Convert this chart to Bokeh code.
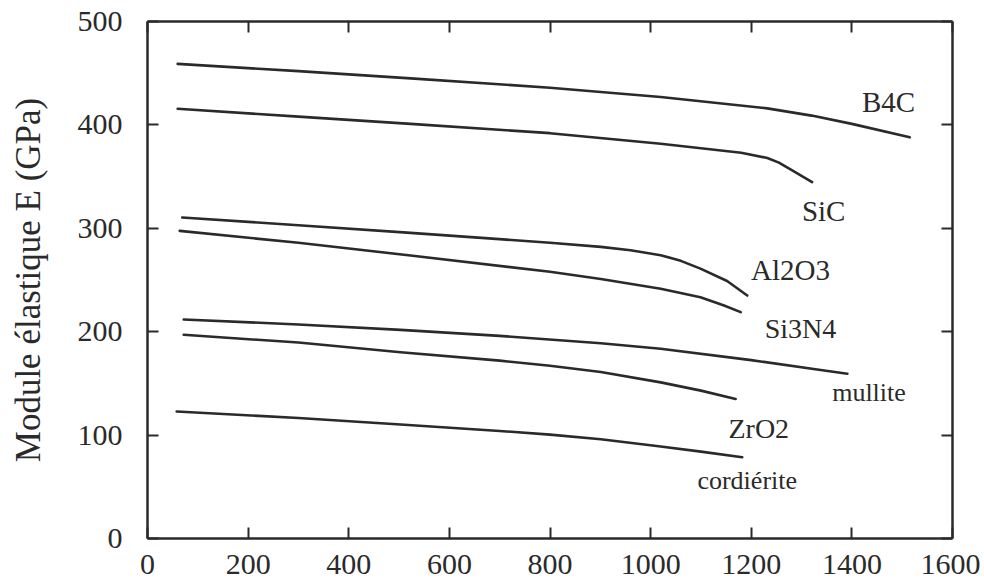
from bokeh.plotting import figure
from bokeh.models import Range1d, LinearAxis, FixedTicker, CustomJSTickFormatter, ColumnDataSource
from bokeh.core.properties import value
from bokeh.embed import file_html
from bokeh.resources import INLINE

# ---- data (temperature in °C, modulus in GPa) ----
b4c_t = [60, 300, 523, 800, 1020, 1232, 1320, 1400, 1515]
b4c_e = [459, 452, 445, 436, 427, 416, 409, 401, 388]

sic_t = [60, 300, 523, 800, 1020, 1180, 1232, 1255, 1278, 1321]
sic_e = [415.6, 408, 401, 392, 381.7, 373, 368, 363.5, 357, 344.6]

al2o3_t = [69, 300, 523, 800, 901, 960, 1020, 1060, 1099, 1152, 1192]
al2o3_e = [310.5, 303, 295.6, 286, 282, 278.8, 274, 268.5, 261, 249, 235]

si3n4_t = [64, 300, 523, 800, 901, 1020, 1099, 1146, 1179]
si3n4_e = [297.5, 286, 273.7, 258, 251, 241.5, 233.4, 225.3, 218.9]

mullite_t = [72, 300, 503, 700, 901, 1020, 1200, 1338, 1391]
mullite_e = [211.8, 207, 201.8, 196, 188.8, 183.5, 172.5, 163, 159.3]

zro2_t = [72, 300, 503, 700, 800, 901, 1020, 1100, 1169]
zro2_e = [197, 189.5, 180.2, 172, 167, 161, 151, 143, 135]

cord_t = [58, 300, 503, 700, 800, 901, 1020, 1100, 1182]
cord_e = [122.8, 116.5, 110.3, 104, 100.5, 96, 89, 84, 78.6]

label_names = ["B4C", "SiC", "Al2O3", "Si3N4", "mullite", "ZrO2", "cordiérite"]
label_t = [1473, 1344, 1278, 1298, 1434, 1215, 1192]
label_e = [422, 317, 260, 203, 141.5, 106, 56]
label_sizes = ["29px", "29px", "29px", "28px", "26px", "28px", "26px"]

x_ticks = [0, 200, 400, 600, 800, 1000, 1200, 1400, 1600]
y_ticks = [0, 100, 200, 300, 400, 500]

FONT = "Liberation Serif"
INK = "#2a2a2a"

p = figure(frame_width=805, frame_height=517, output_backend="svg", toolbar_location=None,
           x_range=Range1d(0, 1600), y_range=Range1d(0, 500),
           min_border_left=147, min_border_top=21, min_border_right=28, min_border_bottom=48)
p.xgrid.visible = False
p.ygrid.visible = False
p.outline_line_color = None
p.background_fill_color = "white"
p.border_fill_color = "white"

series = [(b4c_t, b4c_e), (sic_t, sic_e), (al2o3_t, al2o3_e), (si3n4_t, si3n4_e),
          (mullite_t, mullite_e), (zro2_t, zro2_e), (cord_t, cord_e)]
for t, e in series:
    p.line(t, e, line_color=INK, line_width=2.6, line_join="round", line_cap="round")

src = ColumnDataSource(dict(x=label_t, y=label_e, text=label_names, size=label_sizes))
p.text(x="x", y="y", text="text", source=src, text_font=value(FONT), text_font_size="size",
       text_align="center", text_baseline="middle", text_color=INK)

def style_axis(ax, ticks):
    ax.ticker = FixedTicker(ticks=ticks)
    ax.axis_line_width = 2.5
    ax.axis_line_color = INK
    ax.major_tick_in = 11
    ax.major_tick_out = 0
    ax.major_tick_line_width = 2
    ax.major_tick_line_color = INK
    ax.minor_tick_line_color = None
    ax.major_label_text_font = FONT
    ax.major_label_text_font_size = "30px"
    ax.major_label_text_color = INK

xa = p.xaxis[0]
style_axis(xa, x_ticks)
xa.major_label_standoff = 16

ya = p.yaxis[0]
style_axis(ya, y_ticks)
ya.major_label_standoff = 25
ya.axis_label = "Module élastique E (GPa)"
ya.axis_label_text_font = FONT
ya.axis_label_text_font_size = "35px"
ya.axis_label_text_font_style = "normal"
ya.axis_label_text_color = INK
ya.axis_label_standoff = 27

top = LinearAxis(formatter=CustomJSTickFormatter(code="return ''"))
style_axis(top, x_ticks)
top.major_label_standoff = 0
p.add_layout(top, "above")
right = LinearAxis(formatter=CustomJSTickFormatter(code="return ''"))
style_axis(right, y_ticks)
right.major_label_standoff = 0
p.add_layout(right, "right")

open("out.html", "w").write(file_html(p, INLINE))
